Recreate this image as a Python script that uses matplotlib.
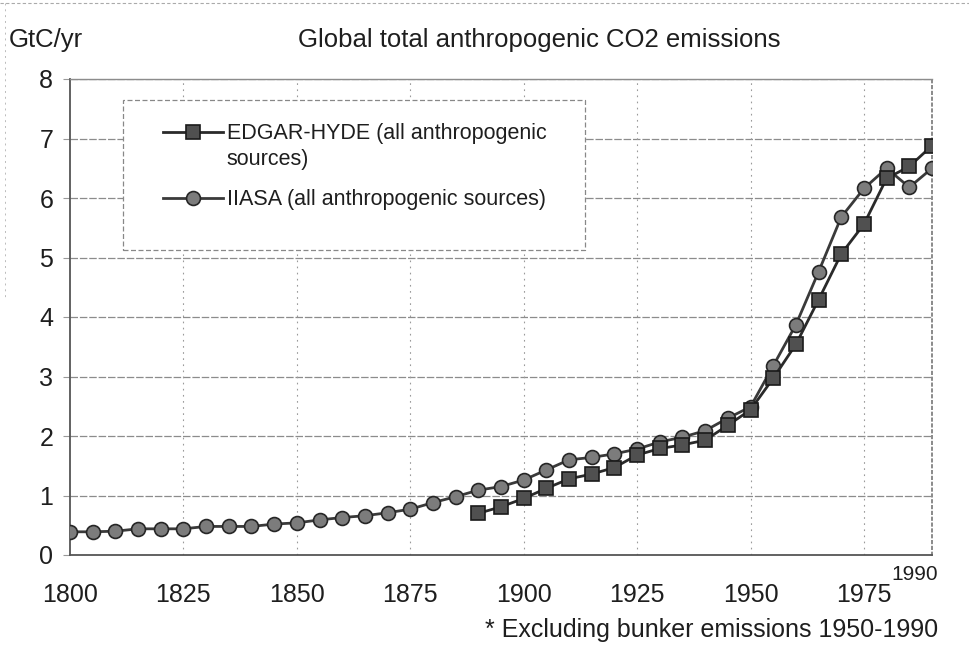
import matplotlib
matplotlib.use("Agg")
import matplotlib.pyplot as plt
import matplotlib.transforms as mtransforms
from matplotlib.lines import Line2D
from matplotlib.patches import Rectangle

plt.rcParams['font.family'] = ['Liberation Sans', 'DejaVu Sans']

# ---- data ----
iiasa_years = list(range(1800, 1995, 5))
iiasa_vals = [0.39, 0.39, 0.40, 0.44, 0.44, 0.44, 0.48, 0.48, 0.48, 0.52,
              0.54, 0.59, 0.63, 0.66, 0.71, 0.77, 0.88, 0.98, 1.09, 1.15,
              1.26, 1.43, 1.60, 1.64, 1.70, 1.78, 1.90, 1.98, 2.09, 2.30,
              2.49, 3.18, 3.87, 4.76, 5.68, 6.16, 6.50, 6.18, 6.50]
edgar_years = list(range(1890, 1995, 5))
edgar_vals = [0.70, 0.81, 0.95, 1.12, 1.28, 1.36, 1.47, 1.68, 1.79, 1.85,
              1.93, 2.18, 2.44, 2.97, 3.54, 4.29, 5.06, 5.56, 6.33, 6.53, 6.88]
xtick_vals = [1800, 1825, 1850, 1875, 1900, 1925, 1950, 1975]
ytick_vals = [0, 1, 2, 3, 4, 5, 6, 7, 8]
title = "Global total anthropogenic CO2 emissions"
ylabel = "GtC/yr"
edgar_label_1 = "EDGAR-HYDE (all anthropogenic"
edgar_label_2 = "sources)"
iiasa_label = "IIASA (all anthropogenic sources)"
footnote = "* Excluding bunker emissions 1950-1990"

txt = '#1e1e1e'
fig = plt.figure(figsize=(9.69, 6.48), dpi=100)
ax = fig.add_axes([70/969, 1-555/648, (932-70)/969, (555-79)/648])

ax.set_xlim(1800, 1990)
ax.set_ylim(0, 8)

# grid
for yv in ytick_vals[1:]:
    ax.axhline(yv, color='#8c8c8c', lw=0.9, ls=(0, (6, 1.5)), zorder=1)
for xv in xtick_vals[1:]:
    ax.axvline(xv, color='#9a9a9a', lw=0.8, ls=(0, (1.5, 4)), zorder=1)

ln1, = ax.plot(iiasa_years, iiasa_vals, color='#3a3a3a', lw=2.0, marker='o',
               ms=10, mfc='#7c7c7c', mec='#262626', mew=1.2, zorder=3)
ln2, = ax.plot(edgar_years, edgar_vals, color='#2a2a2a', lw=2.0, marker='s',
               ms=9.5, mfc='#505050', mec='#1a1a1a', mew=1.2, zorder=4)

# spines
for s in ['left', 'bottom']:
    ax.spines[s].set_color('#555555')
    ax.spines[s].set_linewidth(1.3)
ax.spines['top'].set_color('#8c8c8c')
ax.spines['top'].set_linewidth(1.0)
ax.spines['right'].set_color('#777777')
ax.spines['right'].set_linestyle((0, (1.5, 2)))
ax.spines['right'].set_linewidth(1.2)

ax.set_xticks(xtick_vals)
ax.set_xticklabels([str(v) for v in xtick_vals], fontsize=18, color=txt)
ax.set_yticks(ytick_vals)
ax.set_yticklabels([str(v) for v in ytick_vals], fontsize=18, color=txt)
ax.tick_params(axis='x', length=0, pad=20)
ax.tick_params(axis='y', length=5, color='#999999', pad=7)

# raised 1990 label
off = mtransforms.ScaledTranslation(-17/100, -19/100, fig.dpi_scale_trans)
ax.text(1990, 0, '1990', transform=ax.transData + off, ha='center',
        va='center', fontsize=15, color=txt)

# title / axis unit / footnote
fig.text(539/969, 1-40/648, title, ha='center', va='center', fontsize=18.5, color=txt)
fig.text(9/969, 1-40/648, ylabel, ha='left', va='center', fontsize=18.5, color=txt)
fig.text(938/969, 1-630/648, footnote, ha='right', va='center', fontsize=18, color=txt)

# legend box
box = Rectangle((0.0615, 0.641), 0.536, 0.315, transform=ax.transAxes,
                facecolor='white', edgecolor='#888888', lw=0.9,
                ls=(0, (4, 2)), zorder=5)
ax.add_patch(box)
blank = Line2D([], [], linestyle='none')
leg1 = ax.legend([ln2, blank], [edgar_label_1, edgar_label_2], loc='upper left',
                 bbox_to_anchor=(0.108, 0.907), fontsize=15.5, frameon=False,
                 handlelength=2.8, handletextpad=0.15, borderpad=0,
                 labelspacing=0.2, borderaxespad=0, labelcolor=txt)
leg1.set_zorder(6)
ax.add_artist(leg1)
leg2 = ax.legend([ln1], [iiasa_label], loc='upper left',
                 bbox_to_anchor=(0.108, 0.768), fontsize=15.5, frameon=False,
                 handlelength=2.8, handletextpad=0.15, borderpad=0,
                 borderaxespad=0, labelcolor=txt)
leg2.set_zorder(6)

# faint scan border
fig.add_artist(Line2D([0, 1], [1-3/648, 1-3/648], transform=fig.transFigure,
                      color='#aaaaaa', lw=0.8, ls=(0, (3, 2))))
fig.add_artist(Line2D([5/969, 5/969], [1-3/648, 1-300/648], transform=fig.transFigure,
                      color='#bbbbbb', lw=0.7, ls=(0, (2, 4))))

fig.savefig('out.png', dpi=100)
